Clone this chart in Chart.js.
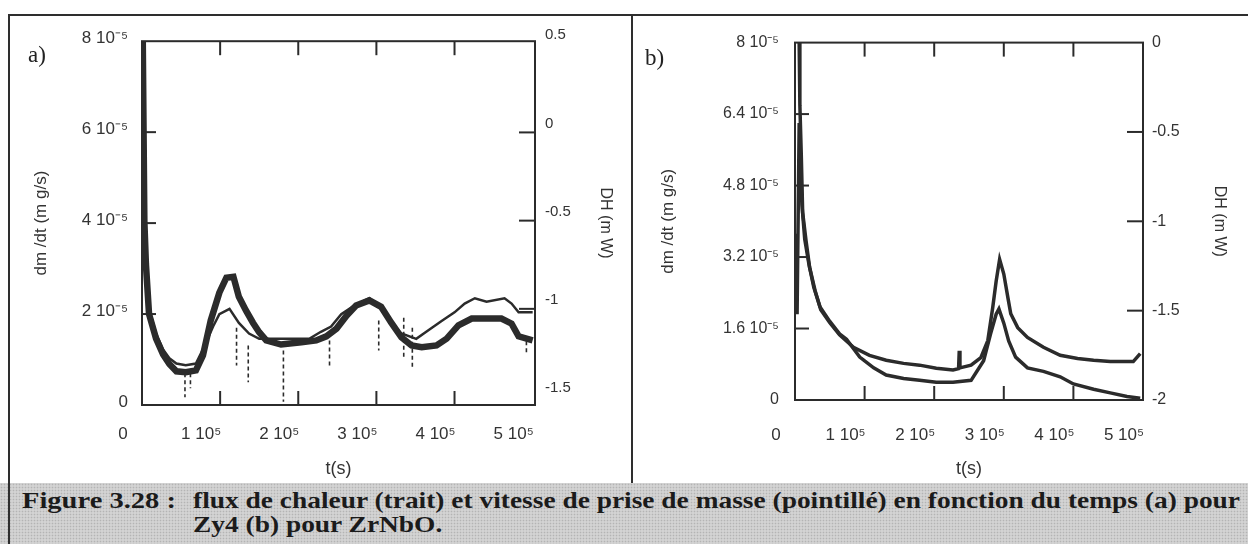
<!DOCTYPE html>
<html>
<head>
<meta charset="utf-8">
<script src="https://cdn.jsdelivr.net/npm/chart.js@4.4.1/dist/chart.umd.min.js"></script>
<style>
  html, body { margin: 0; padding: 0; background: #fff; }
  #page { position: relative; width: 1248px; height: 544px; overflow: hidden; background: #fff; }
  .line { position: absolute; background: #2e2e2e; z-index: 3; }
  .panel { position: absolute; top: 17px; height: 466px; }
  #wrapA { left: 11px; width: 620px; }
  #wrapB { left: 634px; width: 611px; }
  .tag { position: absolute; font-family: "Liberation Serif", serif; font-size: 23px; color: #222; }
  #caption { position: absolute; left: 0; top: 483px; width: 1248px; height: 61px;
    background-color: #d3d3d3;
    background-image: radial-gradient(#b4b4b4 0.7px, transparent 1.1px);
    background-size: 3px 3px;
    font-family: "Liberation Serif", serif; font-weight: bold; font-size: 24px; color: #1b1b1b; }
  #caption span { position: absolute; white-space: nowrap; line-height: 24px; transform-origin: 0 50%; }
</style>
</head>
<body>
<div id="page">
  <div class="line" style="left:9px; top:14px; width:1239px; height:2px;"></div>
  <div class="line" style="left:8px; top:14px; width:2px; height:530px;"></div>
  <div class="line" style="left:631px; top:14px; width:2px; height:469px;"></div>

  <div class="panel" id="wrapA"><canvas id="chartA" width="620" height="466"></canvas></div>
  <div class="panel" id="wrapB"><canvas id="chartB" width="611" height="466"></canvas></div>

  <div class="tag" style="left:28px; top:42px;">a)</div>
  <div class="tag" style="left:645px; top:45px;">b)</div>

  <div id="caption">
    <span id="capFig" data-w="154" style="left:22px; top:5px;">Figure 3.28 :</span>
    <span id="capL1" data-w="1047" style="left:193px; top:5px;">flux de chaleur (trait) et vitesse de prise de masse (pointillé) en fonction du temps (a) pour</span>
    <span id="capL2" style="left:193px; top:29px;">Zy4 (b) pour ZrNbO.</span>
  </div>
</div>

<script>
// ---- panel a) Zy4 : t in 1e5 s, dm/dt in 1e-5 mg/s, DH in mW
const tA_mass = [0.01, 0.02, 0.03, 0.05, 0.09, 0.18, 0.27, 0.35, 0.44, 0.56, 0.69, 0.78, 0.88, 0.99, 1.08, 1.17, 1.24, 1.33, 1.42, 1.5, 1.59, 1.78, 2.04, 2.23, 2.36, 2.49, 2.62, 2.74, 2.91, 3.06, 3.19, 3.32, 3.45, 3.58, 3.77, 3.9, 4.05, 4.22, 4.41, 4.6, 4.73, 4.82, 5.0];
const mA = [8.0, 6.0, 4.05, 3.1, 2.0, 1.46, 1.11, 0.9, 0.74, 0.72, 0.76, 1.09, 1.86, 2.47, 2.8, 2.82, 2.38, 2.08, 1.81, 1.6, 1.42, 1.33, 1.38, 1.42, 1.51, 1.68, 1.97, 2.19, 2.3, 2.16, 1.81, 1.49, 1.31, 1.27, 1.31, 1.46, 1.75, 1.9, 1.9, 1.9, 1.79, 1.51, 1.42];

const tA_heat = [0.01, 0.03, 0.05, 0.09, 0.18, 0.27, 0.35, 0.44, 0.56, 0.69, 0.78, 0.91, 0.99, 1.12, 1.24, 1.37, 1.5, 1.91, 2.14, 2.29, 2.42, 2.55, 2.72, 2.91, 3.06, 3.19, 3.32, 3.51, 3.67, 3.83, 4.0, 4.13, 4.26, 4.41, 4.64, 4.73, 4.82, 5.0];
const hA = [-0.35, -0.43, -0.74, -1.0, -1.14, -1.23, -1.28, -1.31, -1.32, -1.31, -1.23, -1.1, -1.03, -1.0, -1.08, -1.14, -1.17, -1.17, -1.17, -1.13, -1.1, -1.03, -0.98, -0.94, -0.99, -1.08, -1.14, -1.17, -1.12, -1.07, -1.02, -0.97, -0.94, -0.96, -0.94, -0.97, -1.02, -1.02];

// dropouts of the balance signal (vertical dashes)
const tA_drop = [0.55, 0.62, 1.21, 1.36, 1.81, 2.4, 3.03, 3.35, 3.46, 4.92];
const topA_drop = [0.7, 0.7, 1.7, 1.31, 1.2, 1.42, 1.86, 1.92, 1.7, 1.4];
const botA_drop = [0.17, 0.37, 0.87, 0.5, 0.07, 0.81, 1.2, 1.05, 0.81, 1.14];

// ---- panel b) ZrNbO
const tB_mass = [0.06, 0.07, 0.09, 0.11, 0.16, 0.21, 0.29, 0.37, 0.5, 0.64, 0.84, 1.07, 1.31, 1.56, 1.79, 2.03, 2.27, 2.35, 2.36, 2.37, 2.53, 2.67, 2.77, 2.84, 2.89, 2.94, 3.0, 3.06, 3.1, 3.2, 3.34, 3.57, 3.81, 4.06, 4.29, 4.53, 4.86, 4.96];
const mB = [8.0, 6.6, 5.5, 4.2, 3.55, 2.97, 2.44, 2.02, 1.73, 1.46, 1.18, 1.0, 0.89, 0.82, 0.78, 0.71, 0.67, 0.7, 1.1, 0.72, 0.78, 0.95, 1.33, 2.06, 2.66, 3.15, 2.82, 2.28, 1.93, 1.62, 1.4, 1.18, 1.0, 0.93, 0.89, 0.86, 0.86, 1.04];

const tB_heat = [0.01, 0.03, 0.06, 0.08, 0.1, 0.14, 0.2, 0.27, 0.36, 0.5, 0.64, 0.74, 0.93, 1.13, 1.31, 1.56, 1.79, 2.03, 2.27, 2.53, 2.71, 2.81, 2.89, 2.93, 3.0, 3.07, 3.17, 3.34, 3.57, 3.81, 4.0, 4.29, 4.53, 4.77, 4.96];
const hB = [-1.07, -1.52, -0.45, -0.67, -0.91, -1.1, -1.24, -1.37, -1.48, -1.56, -1.63, -1.66, -1.76, -1.82, -1.86, -1.88, -1.89, -1.9, -1.9, -1.89, -1.78, -1.63, -1.52, -1.49, -1.57, -1.67, -1.76, -1.82, -1.84, -1.87, -1.91, -1.94, -1.96, -1.98, -1.99];

// ---- ticks
const xTicks = [0, 1, 2, 3, 4, 5];
const xLabels = ['0', '1 10\u2075', '2 10\u2075', '3 10\u2075', '4 10\u2075', '5 10\u2075'];

const yTicksA = [0, 2, 4, 6, 8];
const yLabelsA = ['0', '2 10\u207B\u2075', '4 10\u207B\u2075', '6 10\u207B\u2075', '8 10\u207B\u2075'];
const y2TicksA = [-1.5, -1, -0.5, 0, 0.5];
const y2LabelsA = ['-1.5', '-1', '-0.5', '0', '0.5'];

const yTicksB = [0, 1.6, 3.2, 4.8, 6.4, 8];
const yLabelsB = ['0', '1.6 10\u207B\u2075', '3.2 10\u207B\u2075', '4.8 10\u207B\u2075', '6.4 10\u207B\u2075', '8 10\u207B\u2075'];
const y2TicksB = [-2, -1.5, -1, -0.5, 0];
const y2LabelsB = ['-2', '-1.5', '-1', '-0.5', '0'];

const ink = '#2b2b2b';
const txt = '#333';
const sans = '"Liberation Sans", Arial, sans-serif';

const pts = (ts, vs) => ts.map((t, i) => ({x: t, y: vs[i]}));
const dropPts = (ts, tops, bots) => {
    let out = [];
    ts.forEach((t, i) => { out.push({x: t, y: tops[i]}, {x: t, y: bots[i]}, {x: t, y: null}); });
    return out;
};
const fixW = (w) => (scale) => { scale.width = w; };
const fixH = (h) => (scale) => { scale.height = h; };
const setTicks = (vals) => (scale) => { scale.ticks = vals.map(v => ({value: v})); };
const labelFrom = (vals, labels) => (value) => {
    let i = vals.findIndex(v => Math.abs(v - value) < 1e-9);
    return i < 0 ? '' : labels[i];
};

// frame of the plot + inward tick marks, taken from the scales
const boxTicks = {
    id: 'boxTicks',
    afterDatasetsDraw(chart, args, opts) {
        const {ctx, chartArea: a, scales} = chart;
        ctx.save();
        ctx.strokeStyle = ink;
        ctx.lineWidth = 2;
        ctx.strokeRect(a.left, a.top, a.right - a.left, a.bottom - a.top);
        const seg = (x1, y1, x2, y2) => { ctx.beginPath(); ctx.moveTo(x1, y1); ctx.lineTo(x2, y2); ctx.stroke(); };
        scales.x.ticks.forEach(t => {
            let p = scales.x.getPixelForValue(t.value);
            if (p - a.left < 8 || a.right - p < 8) return;
            seg(p, a.bottom, p, a.bottom - opts.len);
            seg(p, a.top, p, a.top + opts.len);
        });
        scales.y.ticks.forEach(t => {
            let p = scales.y.getPixelForValue(t.value);
            if (p - a.top < 8 || a.bottom - p < 8) return;
            seg(a.left, p, a.left + opts.len, p);
        });
        scales.y2.ticks.forEach(t => {
            let p = scales.y2.getPixelForValue(t.value);
            if (p - a.top < 10 || a.bottom - p < 10) return;
            seg(a.right, p, a.right - opts.len - 2, p);
        });
        ctx.restore();
    }
};

const lineSet = (data, axis, width, dash) => ({
    data: data,
    yAxisID: axis,
    borderColor: ink,
    borderWidth: width,
    borderDash: dash || [],
    pointRadius: 0,
    tension: 0,
    fill: false,
    spanGaps: false
});

const configPanel = (p) => ({
    type: 'line',
    data: {datasets: p.datasets},
    options: {
        responsive: false,
        animation: false,
        events: [],
        layout: {padding: {top: 22, left: 0, right: 0, bottom: 0}},
        plugins: {legend: {display: false}, tooltip: {enabled: false}, boxTicks: {len: 14}},
        scales: {
            x: {
                type: 'linear', position: 'bottom', min: 0, max: p.xMax,
                afterBuildTicks: setTicks(xTicks),
                afterFit: fixH(p.xH),
                grid: {display: false, drawTicks: false},
                border: {display: false},
                ticks: {callback: labelFrom(xTicks, xLabels), color: txt, font: {family: sans, size: 17},
                        padding: p.xPad, labelOffset: -19, maxRotation: 0, autoSkip: false},
                title: {display: true, text: 't(s)', color: txt, font: {family: sans, size: 18},
                        padding: {top: 0, bottom: 3}}
            },
            y: {
                type: 'linear', position: 'left', min: 0, max: 8,
                afterBuildTicks: setTicks(p.yTicks),
                afterFit: fixW(p.yW),
                grid: {display: false, drawTicks: false},
                border: {display: false},
                ticks: {callback: labelFrom(p.yTicks, p.yLabels), color: txt, font: {family: sans, size: p.ySize},
                        padding: p.yPad, labelOffset: p.yOff, autoSkip: false},
                title: {display: true, text: 'dm /dt (m g/s)', color: txt, font: {family: sans, size: 17},
                        padding: {top: p.yTitlePad, bottom: 0}}
            },
            y2: {
                type: 'linear', position: 'right', min: p.y2Min, max: p.y2Max,
                afterBuildTicks: setTicks(p.y2Ticks),
                afterFit: fixW(p.y2W),
                grid: {display: false, drawTicks: false},
                border: {display: false},
                ticks: {callback: labelFrom(p.y2Ticks, p.y2Labels), color: txt, font: {family: sans, size: p.y2Size},
                        padding: p.y2Pad, labelOffset: p.y2Off, autoSkip: false},
                title: {display: true, text: 'DH (m W)', color: txt, font: {family: sans, size: 16},
                        padding: {top: 16, bottom: 0}}
            }
        }
    },
    plugins: [boxTicks]
});

new Chart(document.getElementById('chartA'), configPanel({
    datasets: [
        lineSet(pts(tA_mass, mA), 'y', 6.5),
        lineSet(dropPts(tA_drop, topA_drop, botA_drop), 'y', 1.6, [4, 3]),
        lineSet(pts(tA_heat, hA), 'y2', 2.5)
    ],
    xMax: 5.03, xH: 78, xPad: 19,
    yTicks: yTicksA, yLabels: yLabelsA, yW: 131, yPad: 14, yOff: -3, ySize: 17, yTitlePad: 20,
    y2Ticks: y2TicksA, y2Labels: y2LabelsA, y2Min: -1.545, y2Max: 0.517, y2W: 96, y2Pad: 10, y2Off: -9, y2Size: 15
}));

new Chart(document.getElementById('chartB'), configPanel({
    datasets: [
        lineSet(pts(tB_mass, mB), 'y', 3.5),
        lineSet(pts(tB_heat, hB), 'y2', 3.5)
    ],
    xMax: 5, xH: 83, xPad: 25,
    yTicks: yTicksB, yLabels: yLabelsB, yW: 161, yPad: 16, yOff: 0, ySize: 16, yTitlePad: 24,
    y2Ticks: y2TicksB, y2Labels: y2LabelsB, y2Min: -2, y2Max: 0, y2W: 102, y2Pad: 9, y2Off: 0, y2Size: 16
}));

// the scanned caption font is broad: widen lines to the widths of the scan
const widen = (el, k) => { el.style.transform = 'scaleX(' + k + ')'; };
const capFig = document.getElementById('capFig');
const capL1 = document.getElementById('capL1');
widen(capFig, capFig.dataset.w / capFig.getBoundingClientRect().width);
let k1 = capL1.dataset.w / capL1.getBoundingClientRect().width;
widen(capL1, k1);
widen(document.getElementById('capL2'), k1);
</script>
</body>
</html>
